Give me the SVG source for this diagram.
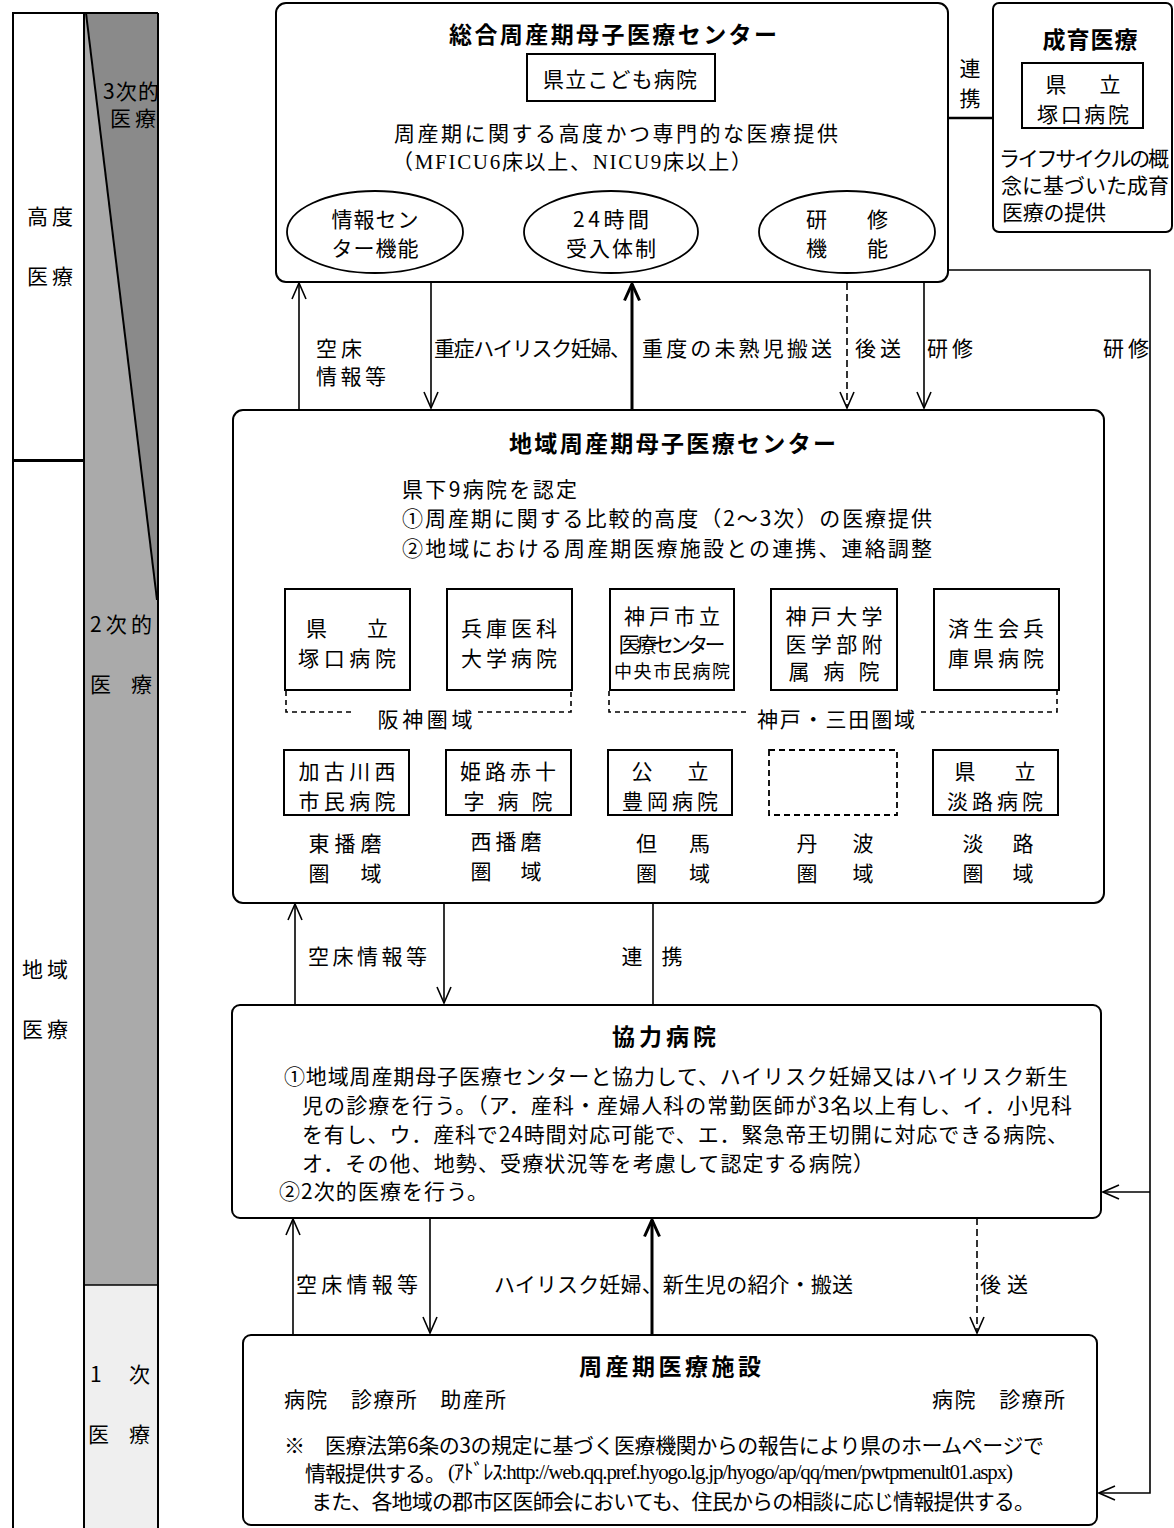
<svg xmlns="http://www.w3.org/2000/svg" width="1174" height="1528" viewBox="0 0 1174 1528">
<style>
text{font-family:"Noto Sans CJK JP","Noto Sans",sans-serif;font-size:21px;fill:#000;dominant-baseline:central}
.b{font-weight:bold;font-size:23px}
.s{font-size:18px}
.ser{font-family:"Liberation Serif","Noto Sans CJK JP",serif}
.box{fill:#fff;stroke:#000;stroke-width:2}
.hb{fill:#fff;stroke:#000;stroke-width:2}
.ell{fill:#fff;stroke:#000;stroke-width:1.8}
.ln{fill:none;stroke:#000;stroke-width:1.6}
.thick{stroke-width:3}
.dash{stroke-dasharray:7 4}
.dot{fill:none;stroke:#000;stroke-width:1.6;stroke-dasharray:5 4}
</style>
<defs>
<marker id="ah" markerUnits="userSpaceOnUse" viewBox="0 0 18 16" refX="17" refY="8" markerWidth="18" markerHeight="16" orient="auto"><path d="M1,1 L17,8 L1,15" fill="none" stroke="#000" stroke-width="1.6"/></marker>
<marker id="ahT" markerUnits="userSpaceOnUse" viewBox="0 0 20 18" refX="18" refY="9" markerWidth="20" markerHeight="18" orient="auto"><path d="M1.5,1.5 L18,9 L1.5,16.5" fill="none" stroke="#000" stroke-width="3"/></marker>
</defs>
<rect width="1174" height="1528" fill="#fff"/>

<g id="left-bar">
<rect x="84" y="13" width="74" height="1272" fill="#aaaaaa"/>
<polygon points="86,13 158,13 157,600" fill="#8a8a8a"/>
<rect x="84" y="1285" width="74" height="250" fill="#efefef"/>
<line x1="84" y1="1285" x2="158" y2="1285" stroke="#000" stroke-width="1.5"/>
<line x1="86" y1="13" x2="157" y2="600" stroke="#000" stroke-width="2"/>
<rect x="13" y="13" width="71" height="447" fill="#fff" stroke="#000" stroke-width="2"/>
<rect x="13" y="461" width="71" height="1080" fill="#fff" stroke="#000" stroke-width="2"/>
<line x1="84" y1="13" x2="158" y2="13" stroke="#000" stroke-width="2"/>
<line x1="158" y1="13" x2="158" y2="1528" stroke="#000" stroke-width="2"/>
<text x="50" y="215" text-anchor="middle" textLength="46">高度</text>
<text x="50" y="275" text-anchor="middle" textLength="46">医療</text>
<text x="45" y="968" text-anchor="middle" textLength="46">地域</text>
<text x="45" y="1028" text-anchor="middle" textLength="46">医療</text>
<text x="103" y="90" textLength="56">3次的</text>
<text x="110" y="117" textLength="46">医療</text>
<text x="90" y="623" textLength="62">2次的</text>
<text x="90" y="683" textLength="62">医　療</text>
<text x="90" y="1373" textLength="60">1　次</text>
<text x="88" y="1433" textLength="62">医　療</text>
</g>

<g id="connectors">
<line class="ln" x1="299" y1="410" x2="299" y2="283" marker-end="url(#ah)"/>
<line class="ln" x1="431" y1="283" x2="431" y2="408" marker-end="url(#ah)"/>
<line class="ln thick" x1="632" y1="410" x2="632" y2="284" marker-end="url(#ahT)"/>
<line class="ln dash" x1="847" y1="283" x2="847" y2="408" marker-end="url(#ah)"/>
<line class="ln" x1="924" y1="283" x2="924" y2="408" marker-end="url(#ah)"/>
<path class="ln" d="M948,270 H1150 V1493 H1099" marker-end="url(#ah)"/>
<line class="ln" x1="1150" y1="1192" x2="1103" y2="1192" marker-end="url(#ah)"/>
<line x1="948" y1="118" x2="993" y2="118" stroke="#000" stroke-width="2.5"/>
<line class="ln" x1="295" y1="1005" x2="295" y2="904" marker-end="url(#ah)"/>
<line class="ln" x1="444" y1="903" x2="444" y2="1003" marker-end="url(#ah)"/>
<line class="ln" x1="653" y1="903" x2="653" y2="1005"/>
<line class="ln" x1="293" y1="1335" x2="293" y2="1219" marker-end="url(#ah)"/>
<line class="ln" x1="430" y1="1218" x2="430" y2="1333" marker-end="url(#ah)"/>
<line class="ln thick" x1="652" y1="1335" x2="652" y2="1220" marker-end="url(#ahT)"/>
<line class="ln dash" x1="977" y1="1218" x2="977" y2="1333" marker-end="url(#ah)"/>
<text x="316" y="347" textLength="46">空床</text>
<text x="316" y="375" textLength="70">情報等</text>
<text x="434" y="347" textLength="197">重症ハイリスク妊婦、</text>
<text x="642" y="347" textLength="190">重度の未熟児搬送</text>
<text x="855" y="347" textLength="46">後送</text>
<text x="927" y="347" textLength="46">研修</text>
<text x="1103" y="347" textLength="46">研修</text>
<text x="970" y="67" text-anchor="middle" font-size="22">連</text>
<text x="970" y="97" text-anchor="middle" font-size="22">携</text>
<text x="308" y="955" textLength="119">空床情報等</text>
<text x="632" y="955" text-anchor="middle">連</text>
<text x="672" y="955" text-anchor="middle">携</text>
<text x="296" y="1283" textLength="122">空床情報等</text>
<text x="494" y="1283" textLength="359">ハイリスク妊婦、新生児の紹介・搬送</text>
<text x="980" y="1283" textLength="48">後送</text>
</g>

<g id="sogo-center">
<rect class="box" x="276" y="3" width="672" height="279" rx="10"/>
<text class="b" x="449" y="33" textLength="328">総合周産期母子医療センター</text>
<rect class="hb" x="527" y="54" width="188" height="47"/>
<text x="543" y="78" textLength="154">県立こども病院</text>
<text x="394" y="132" textLength="444">周産期に関する高度かつ専門的な医療提供</text>
<text class="ser" x="392" y="162" textLength="360">（MFICU6床以上、NICU9床以上）</text>
<ellipse class="ell" cx="375" cy="232" rx="88" ry="41"/>
<text x="375" y="218" text-anchor="middle" textLength="87">情報セン</text>
<text x="375" y="247" text-anchor="middle" textLength="87">ター機能</text>
<ellipse class="ell" cx="611" cy="232" rx="87" ry="41"/>
<text x="611" y="218" text-anchor="middle" textLength="76">24時間</text>
<text x="611" y="247" text-anchor="middle" textLength="90">受入体制</text>
<ellipse class="ell" cx="847" cy="232" rx="88" ry="41"/>
<text x="847" y="218" text-anchor="middle" textLength="82">研　　修</text>
<text x="847" y="247" text-anchor="middle" textLength="82">機　　能</text>
</g>

<g id="seiiku">
<rect class="box" x="993" y="3" width="179" height="229" rx="6"/>
<text class="b" x="1090" y="38" text-anchor="middle" textLength="95" font-size="22">成育医療</text>
<rect class="hb" x="1022" y="63" width="121" height="65"/>
<text x="1083" y="83" text-anchor="middle" textLength="75" font-size="22">県　立</text>
<text x="1083" y="113" text-anchor="middle" textLength="92" font-size="22">塚口病院</text>
<text x="999" y="157" textLength="170" font-size="19">ライフサイクルの概</text>
<text x="1001" y="184" textLength="168" font-size="19">念に基づいた成育</text>
<text x="1002" y="211" textLength="104" font-size="19">医療の提供</text>
</g>

<g id="chiiki-center">
<rect class="box" x="233" y="410" width="871" height="493" rx="10"/>
<text class="b" x="509" y="442" textLength="327">地域周産期母子医療センター</text>
<text x="402" y="488" textLength="175">県下9病院を認定</text>
<text x="402" y="517" textLength="530">①周産期に関する比較的高度（2～3次）の医療提供</text>
<text x="402" y="547" textLength="530">②地域における周産期医療施設との連携、連絡調整</text>
</g>

<g id="h-tsukaguchi">
<rect class="hb" x="285" y="589" width="125" height="101"/>
<text x="347" y="627" text-anchor="middle" textLength="82">県　　立</text>
<text x="347" y="657" text-anchor="middle" textLength="98">塚口病院</text>
</g>
<g id="h-hyogo-med">
<rect class="hb" x="447" y="589" width="125" height="101"/>
<text x="509" y="627" text-anchor="middle" textLength="96">兵庫医科</text>
<text x="509" y="657" text-anchor="middle" textLength="96">大学病院</text>
</g>
<g id="h-kobe-city">
<rect class="hb" x="610" y="589" width="124" height="101"/>
<text x="672" y="615" text-anchor="middle" textLength="96">神戸市立</text>
<text x="672" y="643" text-anchor="middle" textLength="107" font-size="18">医療センター</text>
<text x="672" y="670" text-anchor="middle" textLength="116" class="s">中央市民病院</text>
</g>
<g id="h-kobe-univ">
<rect class="hb" x="771" y="589" width="126" height="101"/>
<text x="834" y="615" text-anchor="middle" textLength="97">神戸大学</text>
<text x="834" y="643" text-anchor="middle" textLength="97">医学部附</text>
<text x="834" y="670" text-anchor="middle" textLength="91">属 病 院</text>
</g>
<g id="h-saiseikai">
<rect class="hb" x="934" y="589" width="125" height="101"/>
<text x="996" y="627" text-anchor="middle" textLength="96">済生会兵</text>
<text x="996" y="657" text-anchor="middle" textLength="96">庫県病院</text>
</g>

<g id="area-hanshin">
<path class="dot" d="M286,691 V712 H355 M478,712 H571 V691"/>
<text x="425" y="718" text-anchor="middle" textLength="95">阪神圏域</text>
</g>
<g id="area-kobe-sanda">
<path class="dot" d="M609,691 V712 H748 M921,712 H1057 V691"/>
<text x="836" y="718" text-anchor="middle" textLength="158">神戸・三田圏域</text>
</g>

<g id="h-kakogawa">
<rect class="hb" x="284" y="750" width="125" height="65"/>
<text x="347" y="770" text-anchor="middle" textLength="97">加古川西</text>
<text x="347" y="800" text-anchor="middle" textLength="97">市民病院</text>
</g>
<g id="h-himeji">
<rect class="hb" x="446" y="750" width="125" height="65"/>
<text x="508" y="770" text-anchor="middle" textLength="96">姫路赤十</text>
<text x="508" y="800" text-anchor="middle" textLength="89">字 病 院</text>
</g>
<g id="h-toyooka">
<rect class="hb" x="608" y="750" width="124" height="65"/>
<text x="670" y="770" text-anchor="middle" textLength="77">公　　立</text>
<text x="670" y="800" text-anchor="middle" textLength="96">豊岡病院</text>
</g>
<g id="h-tamba">
<rect x="769" y="750" width="128" height="65" fill="#fff" stroke="#000" stroke-width="1.8" stroke-dasharray="6 4"/>
</g>
<g id="h-awaji">
<rect class="hb" x="933" y="750" width="125" height="65"/>
<text x="995" y="770" text-anchor="middle" textLength="81">県　　立</text>
<text x="995" y="800" text-anchor="middle" textLength="96">淡路病院</text>
</g>

<g id="area-labels">
<text x="345" y="842" text-anchor="middle" textLength="73">東播磨</text>
<text x="345" y="872" text-anchor="middle" textLength="73">圏　域</text>
<text x="506" y="840" text-anchor="middle" textLength="71">西播磨</text>
<text x="506" y="870" text-anchor="middle" textLength="71">圏　域</text>
<text x="673" y="842" text-anchor="middle" textLength="74">但　馬</text>
<text x="673" y="872" text-anchor="middle" textLength="74">圏　域</text>
<text x="835" y="842" text-anchor="middle" textLength="77">丹　波</text>
<text x="835" y="872" text-anchor="middle" textLength="77">圏　域</text>
<text x="998" y="842" text-anchor="middle" textLength="71">淡　路</text>
<text x="998" y="872" text-anchor="middle" textLength="71">圏　域</text>
</g>

<g id="kyoryoku">
<rect class="box" x="232" y="1005" width="869" height="213" rx="8"/>
<text class="b" x="664" y="1035" text-anchor="middle" textLength="104" font-size="22">協力病院</text>
<text x="284" y="1075" textLength="784">①地域周産期母子医療センターと協力して、ハイリスク妊婦又はハイリスク新生</text>
<text x="302" y="1104" textLength="770">児の診療を行う。（ア．産科・産婦人科の常勤医師が3名以上有し、イ．小児科</text>
<text x="302" y="1133" textLength="766">を有し、ウ．産科で24時間対応可能で、エ．緊急帝王切開に対応できる病院、</text>
<text x="302" y="1162" textLength="572">オ．その他、地勢、受療状況等を考慮して認定する病院）</text>
<text x="279" y="1190" textLength="209">②2次的医療を行う。</text>
</g>

<g id="shusanki-shisetsu">
<rect class="box" x="243" y="1335" width="854" height="190" rx="8"/>
<text class="b" x="579" y="1365" textLength="182" font-size="22">周産期医療施設</text>
<text x="284" y="1398" textLength="222">病院　診療所　助産所</text>
<text x="932" y="1398" textLength="133">病院　診療所</text>
<text x="284" y="1444" textLength="760" font-size="19">※　医療法第6条の3の規定に基づく医療機関からの報告により県のホームページで</text>
<text x="305" y="1472" textLength="141" font-size="19">情報提供する。</text>
<text class="ser" x="448" y="1472" textLength="565" font-size="14">(ｱﾄﾞﾚｽ:http://web.qq.pref.hyogo.lg.jp/hyogo/ap/qq/men/pwtpmenult01.aspx)</text>
<text x="311" y="1500" textLength="724" font-size="19">また、各地域の郡市区医師会においても、住民からの相談に応じ情報提供する。</text>
</g>
</svg>
